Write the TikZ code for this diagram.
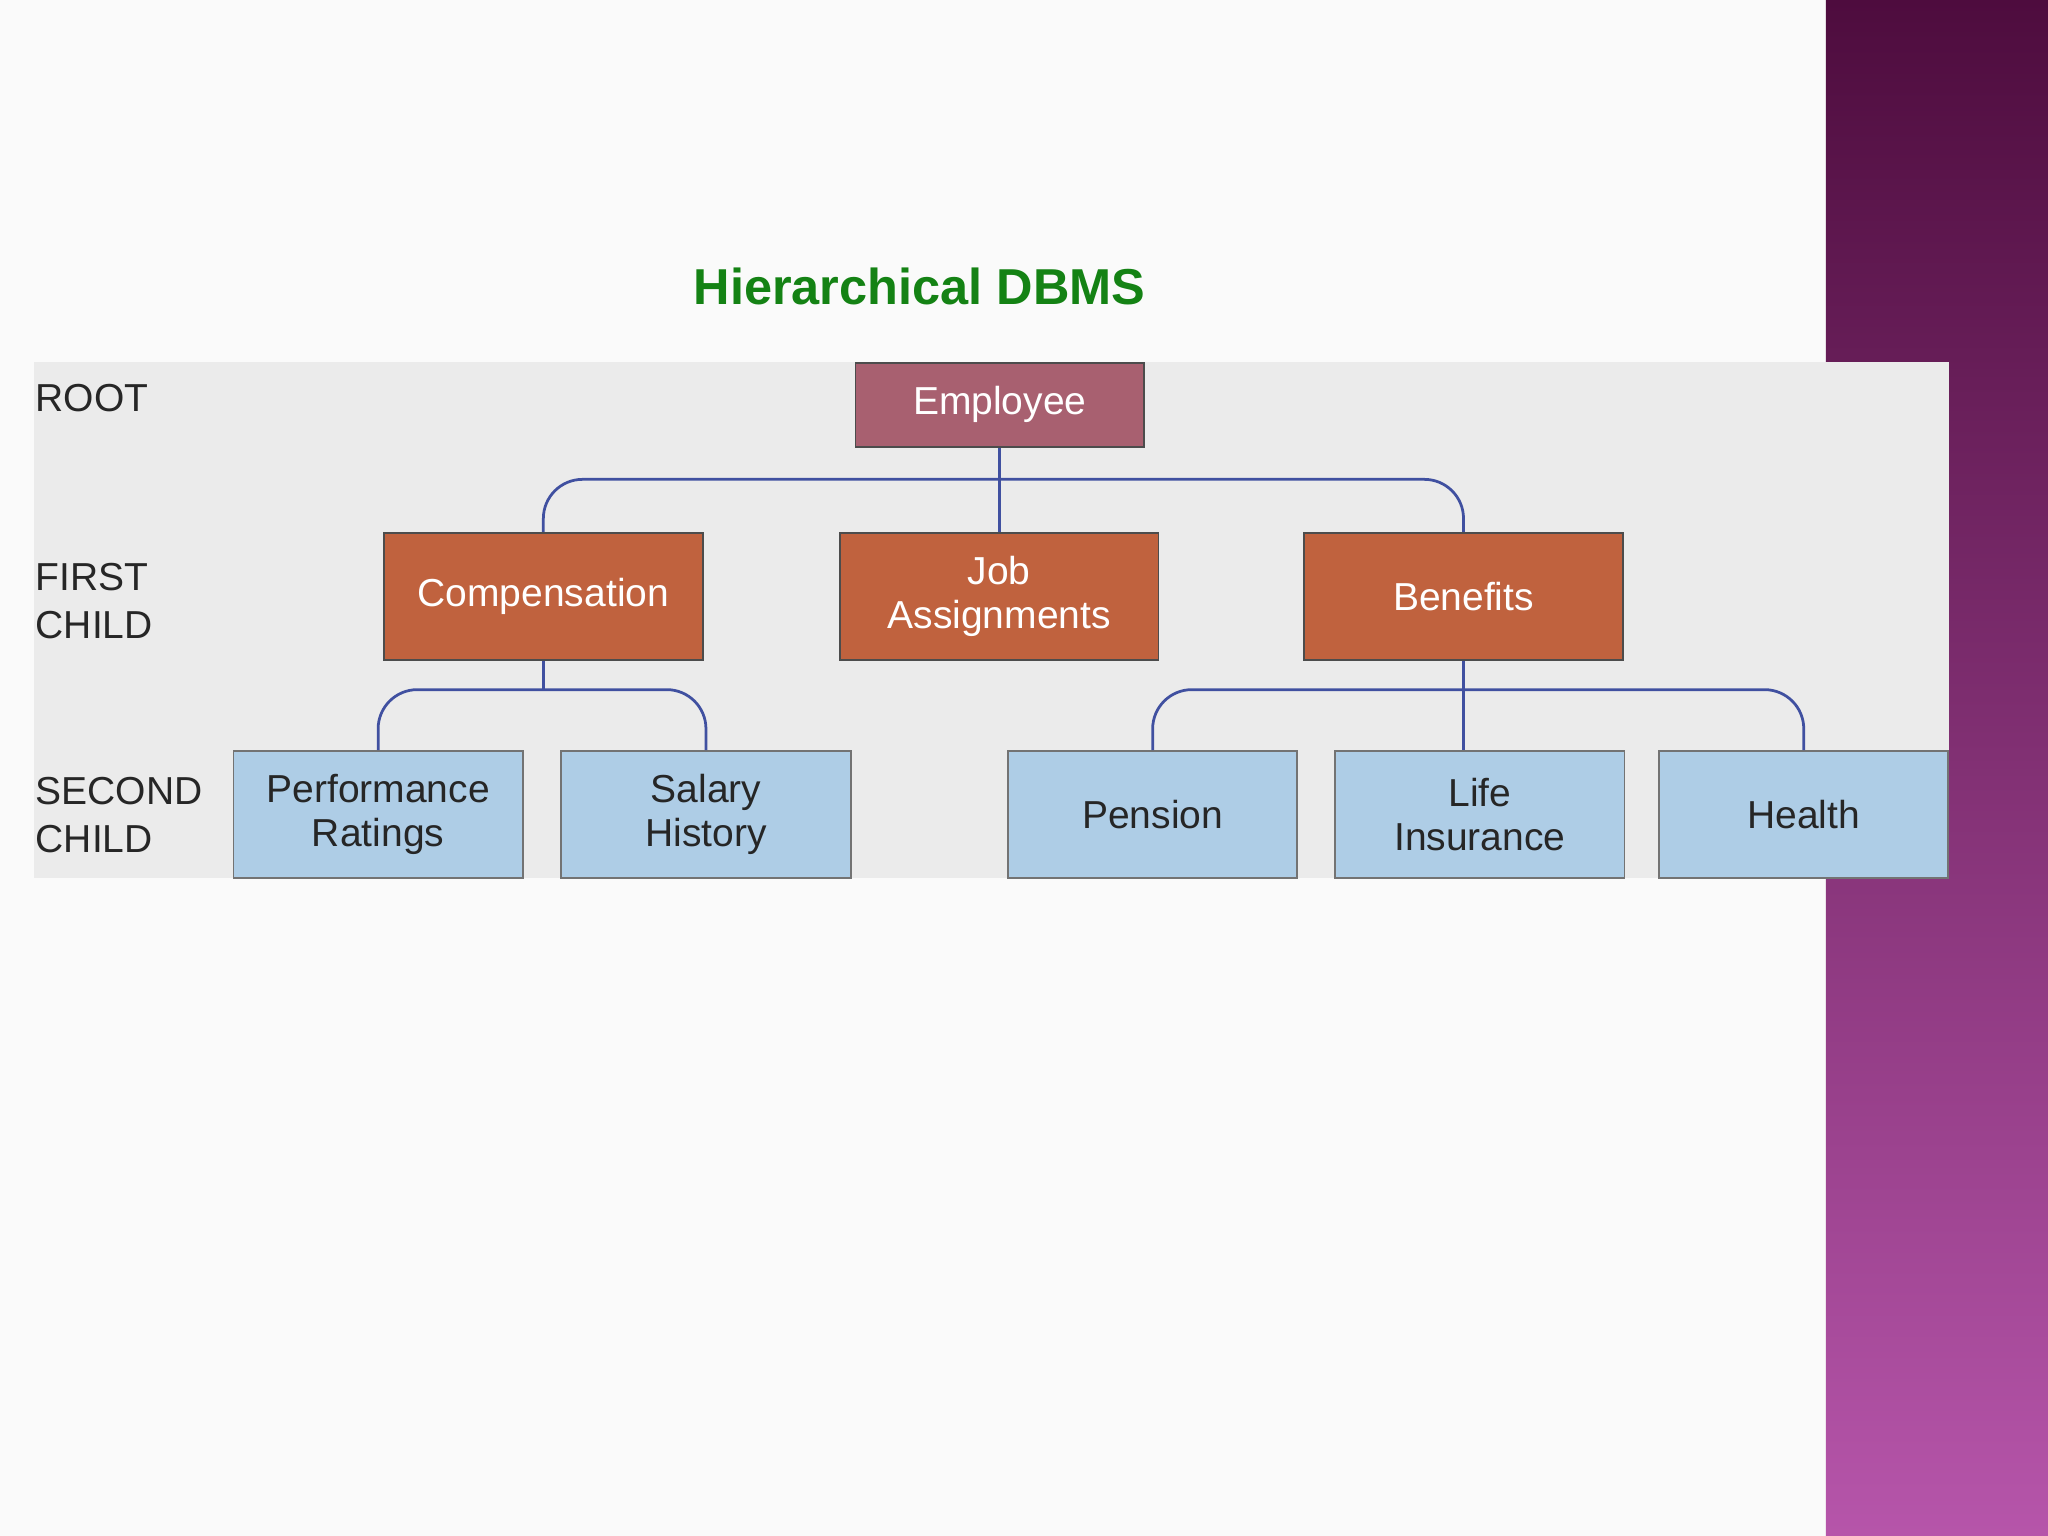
\documentclass[tikz,border=0pt]{standalone}
\usepackage{fontspec}
\setmainfont{Liberation Sans}
\begin{document}
\begin{tikzpicture}[x=0.02cm,y=-0.02cm,
  box/.style={draw=black!70,line width=0.8pt,text=white,font=\fontsize{17}{19}\selectfont,align=center,inner sep=0pt},
  root/.style={box,fill={rgb,255:red,168;green,96;blue,112},minimum width=4.42cm,minimum height=1.28cm},
  first/.style={box,fill={rgb,255:red,192;green,98;blue,62},minimum width=4.88cm,minimum height=1.94cm},
  second/.style={box,text=black!85,fill={rgb,255:red,174;green,205;blue,230},draw=black!55,minimum width=4.43cm,minimum height=1.94cm},
  conn/.style={draw={rgb,255:red,64;green,80;blue,160},line width=1.2pt,rounded corners=0.6cm},
  lab/.style={anchor=west,align=left,font=\fontsize{17}{21}\selectfont,text=black!85,inner sep=0pt}]
\useasboundingbox (0,0) rectangle (1568,1176);
\fill[white!98!black] (0,0) rectangle (1568,1176);
\shade[top color={rgb,255:red,78;green,12;blue,62},bottom color={rgb,255:red,182;green,85;blue,170}] (1398,0) rectangle (1568,1176);
\fill[black!8] (26,277) rectangle (1492,672);
\node[font=\bfseries\fontsize{22}{24}\selectfont,text={rgb,255:red,20;green,130;blue,20}] (title) at (704,219) {Hierarchical DBMS};
\node[lab] (lroot) at (27,305) {ROOT};
\node[lab] (lfirst) at (27,460) {FIRST\\CHILD};
\node[lab] (lsecond) at (27,624) {SECOND\\CHILD};
\coordinate (hub) at (765,367);
\coordinate (hub3) at (1120.5,528);
\node[root] (emp) at (765.5,310) {Employee};
\node[first] (comp) at (416,456.5) {Compensation};
\node[first] (job) at (765,456.5) {Job\\Assignments};
\node[first] (ben) at (1120.5,456.5) {Benefits};
\node[second] (perf) at (289.5,623.5) {Performance\\Ratings};
\node[second] (sal) at (540.5,623.5) {Salary\\History};
\node[second] (pen) at (882.5,623.5) {Pension};
\node[second] (life) at (1133,623.5) {Life\\Insurance};
\node[second] (hea) at (1381,623.5) {Health};
\coordinate (hub2) at (416,528);
\draw[conn,rounded corners=0] (emp.south) -- (emp.south |- job.north);
\draw[conn] (comp.north) |- (hub) -| (ben.north);
\draw[conn,rounded corners=0] (comp.south) -- (hub2);
\draw[conn] (perf.north) |- (hub2) -| (sal.north);
\draw[conn,rounded corners=0] (ben.south) -- (ben.south |- life.north);
\draw[conn] (pen.north) |- (hub3) -| (hea.north);
\end{tikzpicture}
\end{document}
